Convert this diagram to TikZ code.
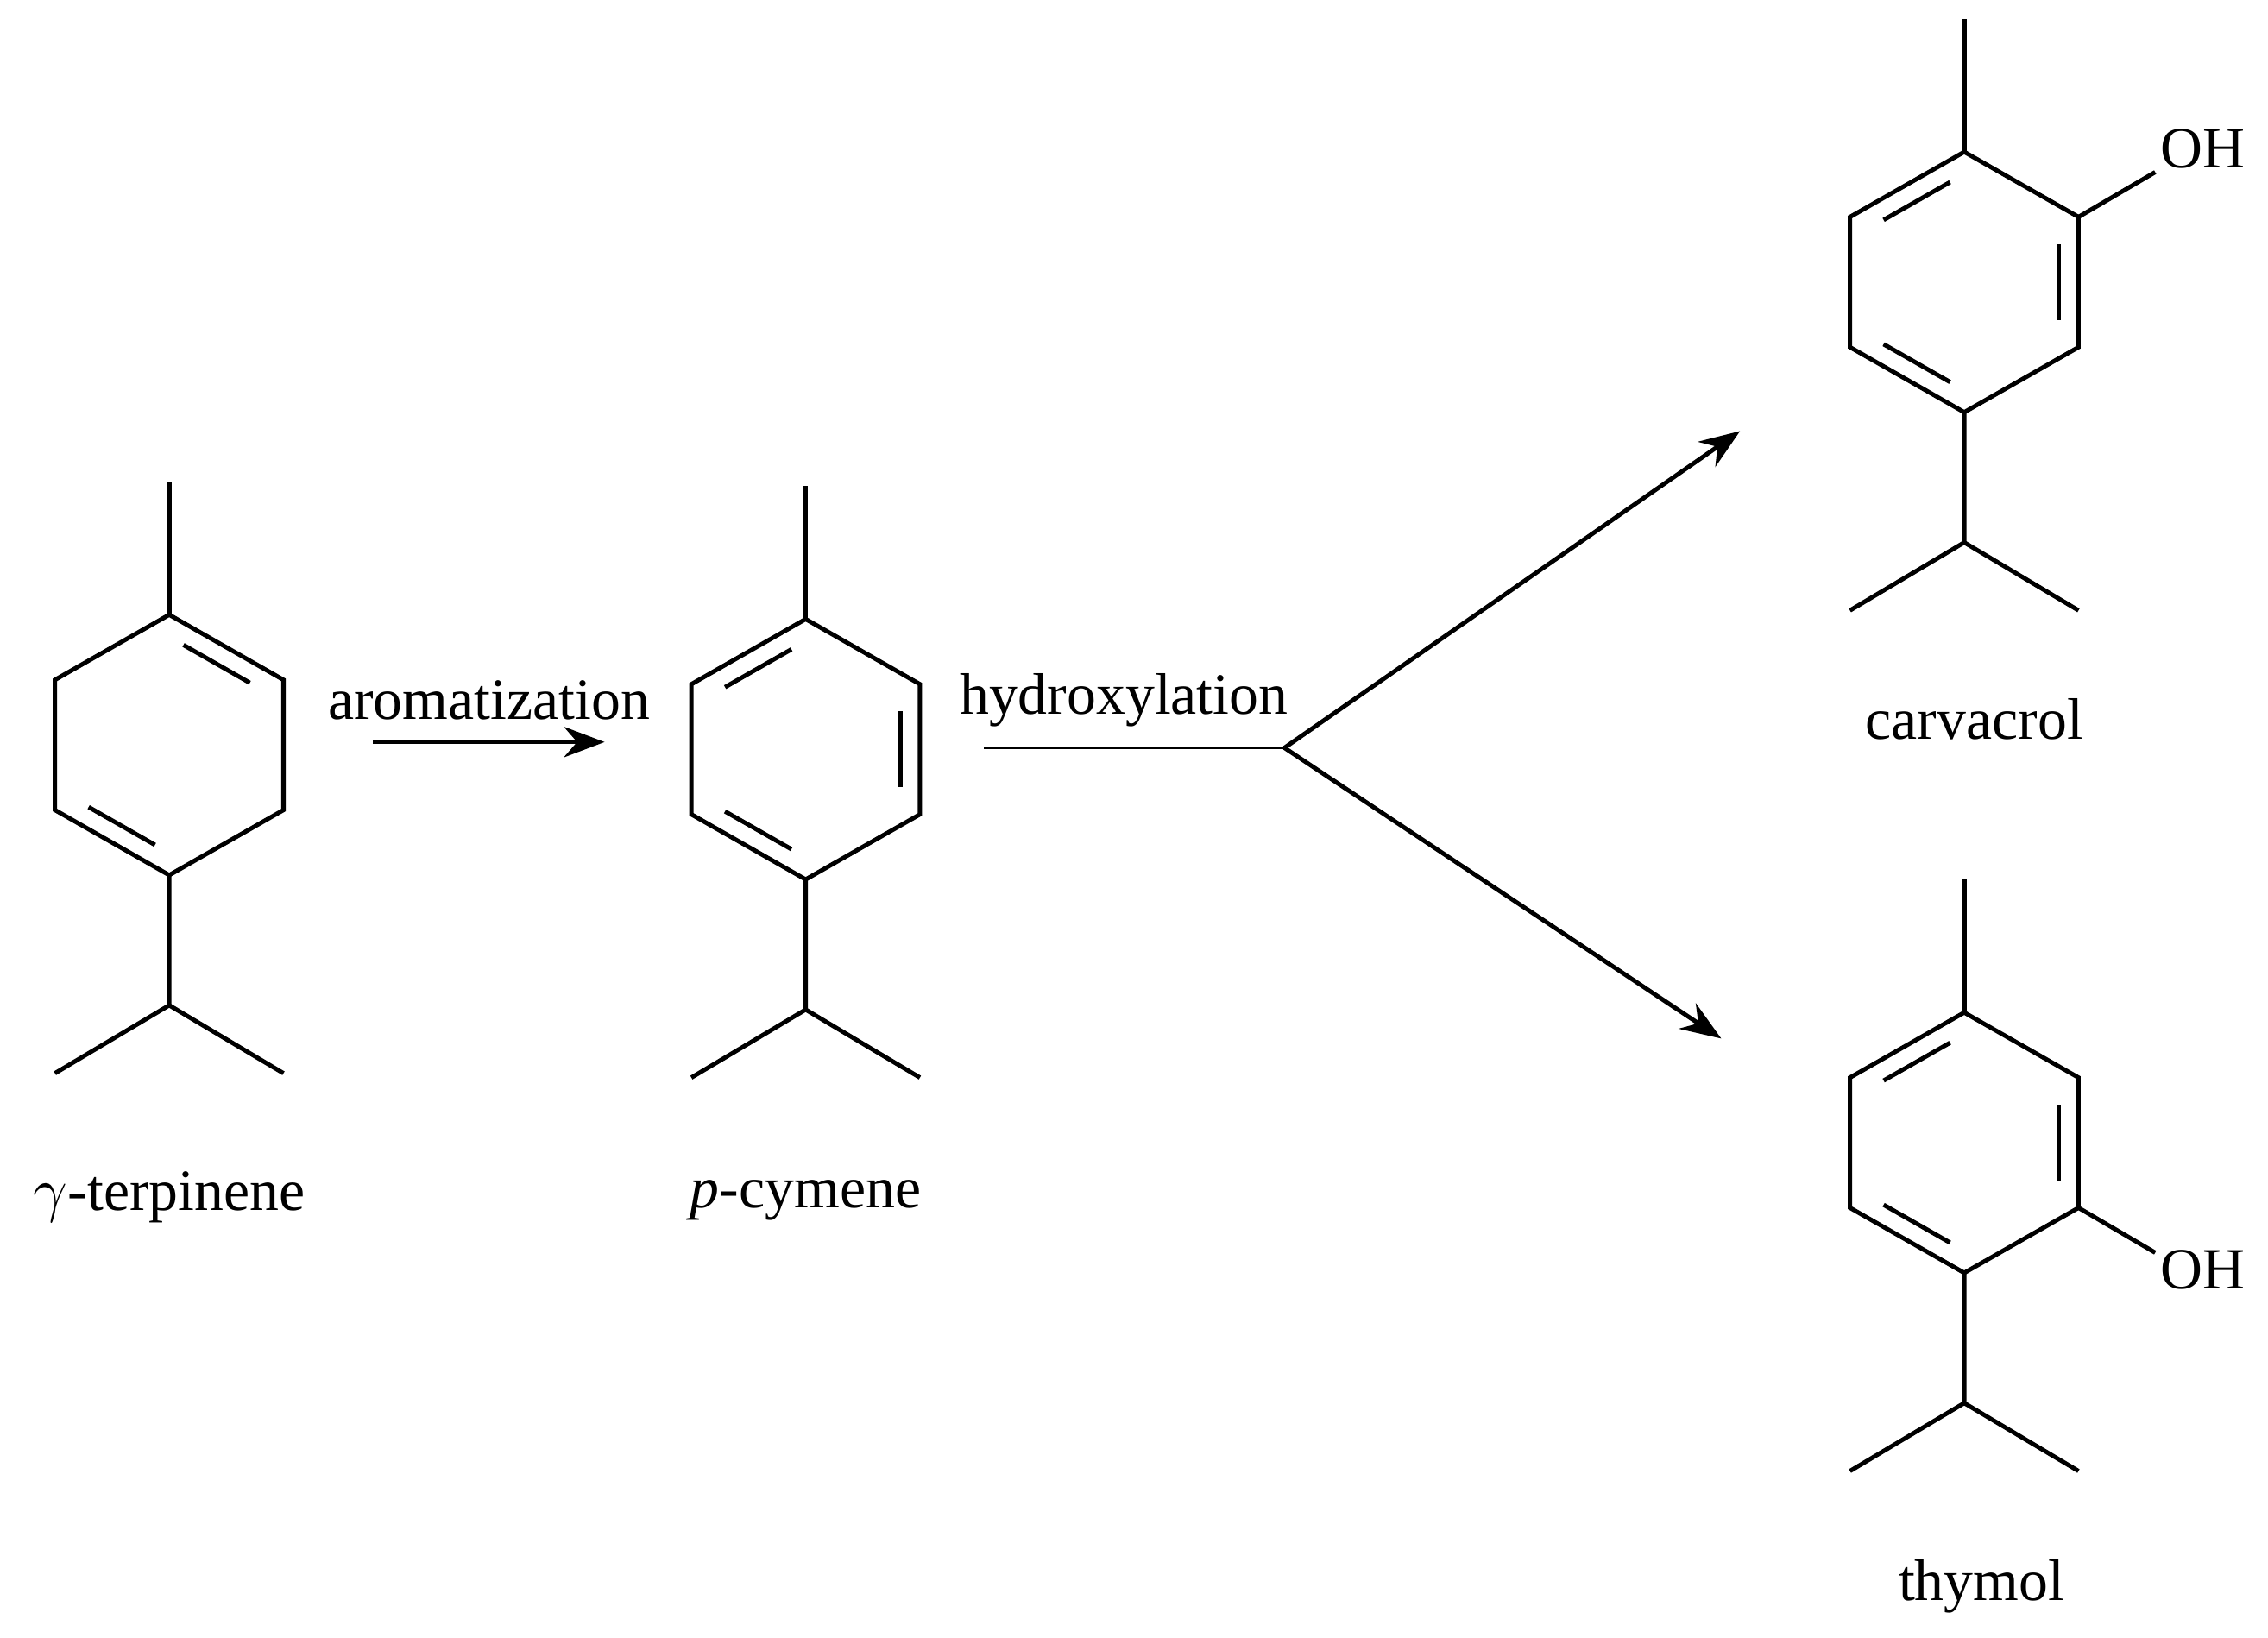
\documentclass[tikz,border=0pt]{standalone}
\usepackage{fontspec}
\setmainfont{Liberation Serif}
\usetikzlibrary{calc,arrows.meta}
\newcommand{\dbl}[3]{\draw[bond] ($($(#1)!0.15!(#2)$)!0.17!(#3)$) -- ($($(#1)!0.85!(#2)$)!0.17!(#3)$);}
\newcommand{\ring}[3]{%
 \coordinate (#1c) at (#2,#3);
 \coordinate (#11) at (#2,#3-90);
 \coordinate (#12) at (#2+79,#3-45);
 \coordinate (#13) at (#2+79,#3+45);
 \coordinate (#14) at (#2,#3+90);
 \coordinate (#15) at (#2-79,#3+45);
 \coordinate (#16) at (#2-79,#3-45);
 \draw[bond] (#11)--(#12)--(#13)--(#14)--(#15)--(#16)--cycle;
 \draw[bond] (#11)--++(0,-92);
 \draw[bond] (#14)--++(0,90) coordinate (#1b) -- ++(-79,47);
 \draw[bond] (#1b)--++(79,47);}
\begin{document}
\begin{tikzpicture}[x={(0.01cm,0)},y={(0,-0.01cm)},
 bond/.style={line width=0.85pt},
 lab/.style={font=\fontsize{11.5}{14}\selectfont,inner sep=0pt},
 arr/.style={line width=0.85pt,-{Stealth[length=8pt,width=6pt]}}]
\useasboundingbox (0,0) rectangle (1568,1132);
% gamma-terpinene
\ring{a}{117}{515}
\dbl{a1}{a2}{ac}\dbl{a4}{a5}{ac}
\node[lab] (la) at (117,828) {$\gamma$-terpinene};
% p-cymene
\ring{b}{557}{518}
\dbl{b6}{b1}{bc}\dbl{b2}{b3}{bc}\dbl{b4}{b5}{bc}
\node[lab] (lb) at (557,830) {\textit{p}-cymene};
% carvacrol
\ring{c}{1358}{195}
\dbl{c6}{c1}{cc}\dbl{c2}{c3}{cc}\dbl{c4}{c5}{cc}
\draw[bond] (c2)--++(53,-31);
\node[lab,anchor=west] (ohc) at (1493,103) {OH};
\node[lab] (lc) at (1365,497) {carvacrol};
% thymol
\ring{d}{1358}{790}
\dbl{d6}{d1}{dc}\dbl{d2}{d3}{dc}\dbl{d4}{d5}{dc}
\draw[bond] (d3)--++(53,31);
\node[lab,anchor=west] (ohd) at (1493,878) {OH};
\node[lab] (ld) at (1370,1097) {thymol};
% arrows
\coordinate (p1) at (258,513); \coordinate (p2) at (418,513);
\draw[arr] (p1)--(p2);
\node[lab] (t1) at (338,484) {aromatization};
\coordinate (q1) at (680,517); \coordinate (q2) at (888,517);
\coordinate (q3) at (1203,298); \coordinate (q4) at (1190,718);
\draw[line width=0.6pt] (q1)--(q2);
\draw[arr] (q2)--(q3);
\draw[arr] (q2)--(q4);
\node[lab] (t2) at (777,484) {hydroxylation};
\end{tikzpicture}
\end{document}
